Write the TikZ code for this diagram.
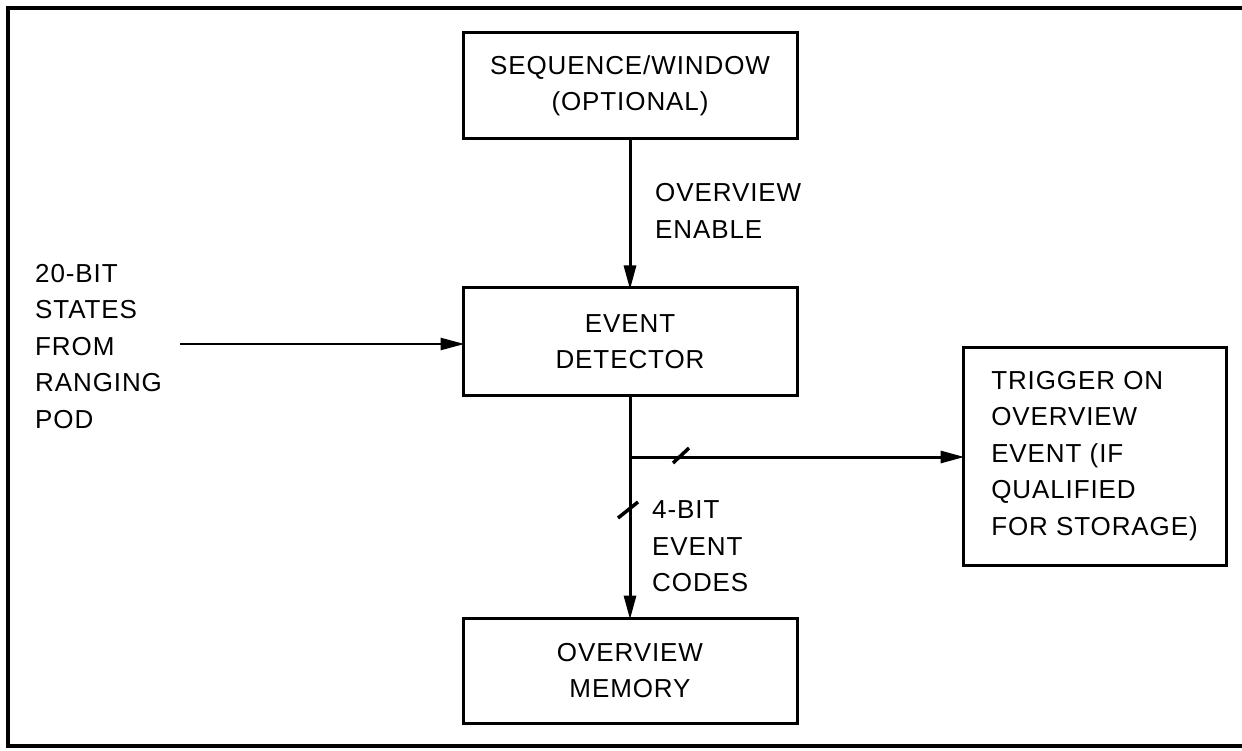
\documentclass[tikz,border=0pt]{standalone}
\usepackage{fontspec}
\setmainfont[LetterSpace=3.5]{Liberation Sans}
\usetikzlibrary{arrows.meta}
\tikzset{
  blk/.style={draw, line width=3pt, minimum width=334pt, align=center, inner sep=0pt, outer sep=0pt},
  lbl/.style={align=left, inner sep=0pt, anchor=west},
  wire/.style={line width=3pt},
  arr/.style={wire, -{Triangle[length=24pt,width=12pt]}, shorten >=-1.5pt},
  tick/.style={line width=3.5pt}
}
\begin{document}
\begin{tikzpicture}[x=1pt,y=-1pt, font=\fontsize{26}{36.5}\selectfont]
\useasboundingbox (0,0) rectangle (1242,751);
% outer frame (right side outside the picture)
\draw[line width=4pt] (1250,8) -- (8,8) -- (8,746) -- (1250,746);
% boxes
\node[blk, minimum height=106pt] (seq) at (630,86) {SEQUENCE/WINDOW\\(OPTIONAL)};
\node[blk, minimum height=107pt] (ed) at (630,341.5) {EVENT\\DETECTOR};
\node[blk, minimum height=105pt] (mem) at (630,670.5) {OVERVIEW\\MEMORY};
\node[draw, line width=3pt, minimum width=263pt, minimum height=218pt, align=left, inner sep=0pt, outer sep=0pt] (trig) at (1094.5,456)
  {TRIGGER ON\\OVERVIEW\\EVENT (IF\\QUALIFIED\\FOR STORAGE)};
% labels
\node[lbl] (inlbl) at (35,346.5) {20-BIT\\STATES\\FROM\\RANGING\\POD};
\node[lbl] (enlbl) at (655,211) {OVERVIEW\\ENABLE};
\node[lbl] (codelbl) at (652,546.5) {4-BIT\\EVENT\\CODES};
% connectors
\coordinate (in) at (180,344);
\coordinate (br) at (630,457);
\draw[arr] (seq.south) -- (ed.north);
\draw[arr, line width=2.5pt] (in) -- (in -| ed.west);
\draw[arr] (ed.south) -- (mem.north);
\draw[arr] (br) -- (br -| trig.west);
% bus slashes
\coordinate (s1) at (681,455.5);
\coordinate (s2) at (628,510);
\draw[tick] ([shift={(-8,7.5)}]s1) -- ([shift={(8,-7.5)}]s1);
\draw[tick] ([shift={(-10,8)}]s2) -- ([shift={(10,-8)}]s2);
\end{tikzpicture}
\end{document}
